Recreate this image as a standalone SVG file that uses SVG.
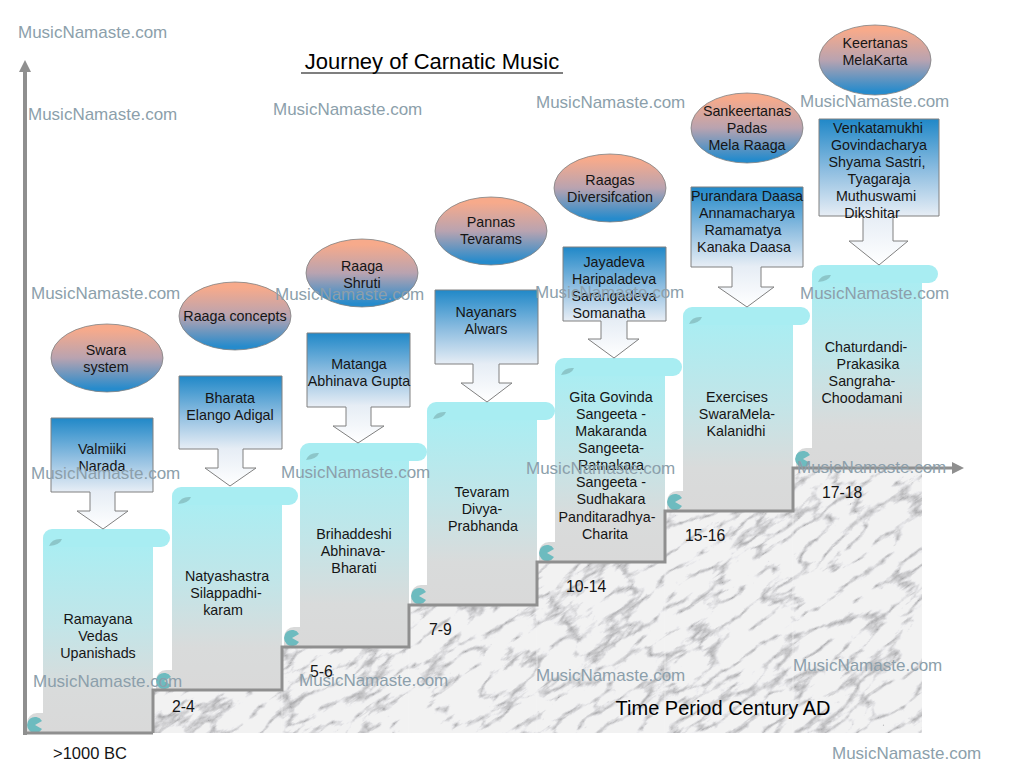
<svg xmlns="http://www.w3.org/2000/svg" width="1024" height="768" viewBox="0 0 1024 768">
<style>
text{font-family:"Liberation Sans",Arial,sans-serif;}
.t{font-size:14.3px;fill:#151515;text-anchor:middle;}
.wm{font-size:17px;fill:#8c9fab;}
.per{font-size:15.8px;fill:#151515;}
.ell{stroke:#808080;stroke-width:0.8;fill:url(#gE);}
.call{stroke:#808080;stroke-width:1;fill:url(#gC);}
.body{fill:url(#gS);}
.roll{fill:#a8edf2;}
.leaf{fill:#8cc6c9;}
.curl{fill:#6dbbbf;}
.ax{fill:none;stroke:#8f8f8f;}
</style>
<defs>
<linearGradient id="gE" x1="0" y1="0" x2="0" y2="1">
<stop offset="0.08" stop-color="#f7aa8b"/>
<stop offset="0.5" stop-color="#b9a3b0"/>
<stop offset="0.95" stop-color="#268bcc"/>
</linearGradient>
<linearGradient id="gC" x1="0" y1="0" x2="0" y2="1">
<stop offset="0" stop-color="#2088c8"/>
<stop offset="0.35" stop-color="#8dbde0"/>
<stop offset="0.66" stop-color="#e6edf5"/>
<stop offset="1" stop-color="#ffffff"/>
</linearGradient>
<linearGradient id="gS" x1="0" y1="0" x2="0" y2="1">
<stop offset="0" stop-color="#a8eef3"/>
<stop offset="0.45" stop-color="#c2e5e8"/>
<stop offset="0.78" stop-color="#d9dbdb"/>
<stop offset="1" stop-color="#d9d9d9"/>
</linearGradient>
<filter id="marble" x="0" y="0" width="100%" height="100%" color-interpolation-filters="sRGB">
<feTurbulence type="turbulence" baseFrequency="0.02 0.055" numOctaves="5" seed="11"/>
<feColorMatrix type="matrix" values="1.35 0 0 0 0.64  1.35 0 0 0 0.64  1.35 0 0 0 0.65  0 0 0 0 1"/>
<feComponentTransfer>
<feFuncR type="linear" slope="0.86" intercept="0.09"/>
<feFuncG type="linear" slope="0.86" intercept="0.09"/>
<feFuncB type="linear" slope="0.86" intercept="0.09"/>
</feComponentTransfer>
<feGaussianBlur stdDeviation="0.6"/>
</filter>
<clipPath id="stairClip">
<path d="M153 690 H282 V647 H409 V605 H537 V562 H665 V511 H793 V468 H922 V733 H153 Z"/>
</clipPath>
<marker id="arr" viewBox="0 0 12 12" refX="0" refY="6" markerWidth="12" markerHeight="12" markerUnits="userSpaceOnUse" orient="auto">
<path d="M0 0 L12 6 L0 12 Z" fill="#8f8f8f"/>
</marker>
</defs>

<rect width="1024" height="768" fill="#ffffff"/>

<g id="marble-steps" clip-path="url(#stairClip)">
<rect x="90" y="150" width="900" height="900" fill="#e0e0e0" filter="url(#marble)" transform="rotate(-35 540 600)"/>
<path d="M282 647 V733 M409 605 V733 M537 562 V733 M665 511 V733 M793 468 V733" stroke="#f4f4f4" stroke-width="1" fill="none" opacity="0.6"/>
</g>

<g id="title">
<text x="432" y="69" style="font-size:22px;fill:#000;text-anchor:middle;">Journey of Carnatic Music</text>
<line x1="301" y1="73" x2="563" y2="73" stroke="#000" stroke-width="1.2"/>
</g>

<!-- scrolls -->
<g id="scroll1">
<path class="body" d="M43 538 H153 V733 H27 V723 A10 10 0 0 1 37 713 H43 Z"/>
<rect class="roll" x="43" y="529" width="127" height="18" rx="9"/>
<path class="leaf" d="M49 546 Q52 538 62 539 Q60 545 49 546 Z"/>
<path class="curl" d="M35 725 L42 721 A8 8 0 1 0 42 729 Z"/>
<text class="t" x="98" y="624">Ramayana</text>
<text class="t" x="98" y="641">Vedas</text>
<text class="t" x="98" y="658">Upanishads</text>
</g>
<g id="scroll2">
<path class="body" d="M172 496 H282 V690 H156 V680 A10 10 0 0 1 166 670 H172 Z"/>
<rect class="roll" x="172" y="487" width="126" height="18" rx="9"/>
<path class="leaf" d="M178 504 Q181 496 191 497 Q189 503 178 504 Z"/>
<path class="curl" d="M164 681 L171 677 A8 8 0 1 0 171 685 Z"/>
<text class="t" x="227" y="581">Natyashastra</text>
<text class="t" x="226" y="598">Silappadhi-</text>
<text class="t" x="223" y="615">karam</text>
</g>
<g id="scroll3">
<path class="body" d="M300 452 H409 V647 H284 V637 A10 10 0 0 1 294 627 H300 Z"/>
<rect class="roll" x="300" y="443" width="127" height="18" rx="9"/>
<path class="leaf" d="M306 460 Q309 452 319 453 Q317 459 306 460 Z"/>
<path class="curl" d="M292 638 L299 634 A8 8 0 1 0 299 642 Z"/>
<text class="t" x="354" y="539">Brihaddeshi</text>
<text class="t" x="353" y="556">Abhinava-</text>
<text class="t" x="354" y="573">Bharati</text>
</g>
<g id="scroll4">
<path class="body" d="M427 411 H537 V605 H411 V595 A10 10 0 0 1 421 585 H427 Z"/>
<rect class="roll" x="427" y="402" width="128" height="18" rx="9"/>
<path class="leaf" d="M433 419 Q436 411 446 412 Q444 418 433 419 Z"/>
<path class="curl" d="M419 596 L426 592 A8 8 0 1 0 426 600 Z"/>
<text class="t" x="482" y="497">Tevaram</text>
<text class="t" x="482" y="514">Divya-</text>
<text class="t" x="483" y="531">Prabhanda</text>
</g>
<g id="scroll5">
<path class="body" d="M555 367 H665 V562 H539 V552 A10 10 0 0 1 549 542 H555 Z"/>
<rect class="roll" x="555" y="358" width="127" height="18" rx="9"/>
<path class="leaf" d="M561 375 Q564 367 574 368 Q572 374 561 375 Z"/>
<path class="curl" d="M547 553 L554 549 A8 8 0 1 0 554 557 Z"/>
<text class="t" x="611" y="402">Gita Govinda</text>
<text class="t" x="611" y="419">Sangeeta -</text>
<text class="t" x="611" y="436">Makaranda</text>
<text class="t" x="611" y="453">Sangeeta-</text>
<text class="t" x="611" y="470">Ratnakara</text>
<text class="t" x="611" y="487">Sangeeta -</text>
<text class="t" x="611" y="504">Sudhakara</text>
<text class="t" x="607" y="522">Panditaradhya-</text>
<text class="t" x="605" y="539">Charita</text>
</g>
<g id="scroll6">
<path class="body" d="M683 316 H793 V511 H667 V501 A10 10 0 0 1 677 491 H683 Z"/>
<rect class="roll" x="683" y="307" width="127" height="18" rx="9"/>
<path class="leaf" d="M689 324 Q692 316 702 317 Q700 323 689 324 Z"/>
<path class="curl" d="M675 502 L682 498 A8 8 0 1 0 682 506 Z"/>
<text class="t" x="737" y="402">Exercises</text>
<text class="t" x="737" y="419">SwaraMela-</text>
<text class="t" x="736" y="436">Kalanidhi</text>
</g>
<g id="scroll7">
<path class="body" d="M812 274 H922 V468 H796 V458 A10 10 0 0 1 806 448 H812 Z"/>
<rect class="roll" x="812" y="265" width="126" height="18" rx="9"/>
<path class="leaf" d="M818 282 Q821 274 831 275 Q829 281 818 282 Z"/>
<path class="curl" d="M803 459 L810 455 A8 8 0 1 0 810 463 Z"/>
<text class="t" x="866" y="352">Chaturdandi-</text>
<text class="t" x="868" y="369">Prakasika</text>
<text class="t" x="862" y="386">Sangraha-</text>
<text class="t" x="862" y="403">Choodamani</text>
</g>

<g id="connectors">
<path class="ax" stroke-width="4" d="M25 735 V72" marker-end="url(#arr)"/>
<path class="ax" stroke-width="3" d="M24 733 H153"/>
<path class="ax" stroke-width="3" d="M153 733 V690 H282 V647 H409 V605 H537 V562 H665 V511 H793 V468 H952" marker-end="url(#arr)"/>
</g>

<!-- callouts -->
<g id="callout1">
<path class="call" d="M51 418 H153 V492 H115 V511 H128 L103 529 L77 511 H90 V492 H51 Z"/>
<text class="t" x="102" y="454">Valmiiki</text>
<text class="t" x="102" y="471">Narada</text>
</g>
<g id="callout2">
<path class="call" d="M179 376 H282 V449 H243 V468 H256 L230 486 L205 468 H218 V449 H179 Z"/>
<text class="t" x="230" y="403">Bharata</text>
<text class="t" x="230" y="420">Elango Adigal</text>
</g>
<g id="callout3">
<path class="call" d="M307 333 H410 V407 H371 V426 H384 L358 443 L333 426 H346 V407 H307 Z"/>
<text class="t" x="359" y="369">Matanga</text>
<text class="t" x="359" y="386">Abhinava Gupta</text>
</g>
<g id="callout4">
<path class="call" d="M435 290 H538 V364 H499 V383 H512 L487 402 L461 383 H473 V364 H435 Z"/>
<text class="t" x="486" y="317">Nayanars</text>
<text class="t" x="486" y="334">Alwars</text>
</g>
<g id="callout5">
<path class="call" d="M563 247 H666 V321 H627 V339 H639 L614 358 L588 339 H601 V321 H563 Z"/>
<text class="t" x="614" y="267">Jayadeva</text>
<text class="t" x="614" y="284">Haripaladeva</text>
<text class="t" x="614" y="301">Sarangadeva</text>
<text class="t" x="609" y="318">Somanatha</text>
</g>
<g id="callout6">
<path class="call" d="M691 187 H803 V267 H761 V287 H774 L747 307 L718 287 H732 V267 H691 Z"/>
<text class="t" x="747" y="201">Purandara Daasa</text>
<text class="t" x="747" y="218">Annamacharya</text>
<text class="t" x="743" y="235">Ramamatya</text>
<text class="t" x="744" y="252">Kanaka Daasa</text>
</g>
<g id="callout7">
<path class="call" d="M819 119 H939 V216 H893 V241 H908 L879 265 L849 241 H863 V216 H819 Z"/>
<text class="t" x="878" y="133">Venkatamukhi</text>
<text class="t" x="879" y="150">Govindacharya</text>
<text class="t" x="877" y="167">Shyama Sastri,</text>
<text class="t" x="879" y="184">Tyagaraja</text>
<text class="t" x="876" y="201">Muthuswami</text>
<text class="t" x="872" y="218">Dikshitar</text>
</g>

<!-- ellipses -->
<g id="ellipse1">
<ellipse class="ell" cx="107" cy="358" rx="56" ry="34"/>
<text class="t" x="106" y="355">Swara</text>
<text class="t" x="106" y="372">system</text>
</g>
<g id="ellipse2">
<ellipse class="ell" cx="235" cy="316" rx="56" ry="34"/>
<text class="t" x="235" y="321">Raaga concepts</text>
</g>
<g id="ellipse3">
<ellipse class="ell" cx="362" cy="273" rx="56" ry="34"/>
<text class="t" x="362" y="271">Raaga</text>
<text class="t" x="362" y="288">Shruti</text>
</g>
<g id="ellipse4">
<ellipse class="ell" cx="491" cy="231" rx="56" ry="34"/>
<text class="t" x="491" y="227">Pannas</text>
<text class="t" x="491" y="244">Tevarams</text>
</g>
<g id="ellipse5">
<ellipse class="ell" cx="610" cy="188" rx="56" ry="34"/>
<text class="t" x="610" y="185">Raagas</text>
<text class="t" x="610" y="202">Diversifcation</text>
</g>
<g id="ellipse6">
<ellipse class="ell" cx="747" cy="128" rx="56" ry="35"/>
<text class="t" x="747" y="116">Sankeertanas</text>
<text class="t" x="747" y="133">Padas</text>
<text class="t" x="747" y="150">Mela Raaga</text>
</g>
<g id="ellipse7">
<ellipse class="ell" cx="875" cy="60" rx="56" ry="35"/>
<text class="t" x="875" y="48">Keertanas</text>
<text class="t" x="875" y="65">MelaKarta</text>
</g>

<g id="periods">
<text class="per" x="53" y="759" style="font-size:16.5px">&gt;1000 BC</text>
<text class="per" x="172" y="712">2-4</text>
<text class="per" x="310" y="677">5-6</text>
<text class="per" x="429" y="635">7-9</text>
<text class="per" x="566" y="592">10-14</text>
<text class="per" x="685" y="541">15-16</text>
<text class="per" x="822" y="498">17-18</text>
<text x="723" y="715" style="font-size:20px;fill:#000;text-anchor:middle;">Time Period Century AD</text>
</g>

<g id="watermarks">
<text class="wm" x="18" y="38">MusicNamaste.com</text>
<text class="wm" x="28" y="120">MusicNamaste.com</text>
<text class="wm" x="273" y="115">MusicNamaste.com</text>
<text class="wm" x="536" y="108">MusicNamaste.com</text>
<text class="wm" x="800" y="107">MusicNamaste.com</text>
<text class="wm" x="31" y="299">MusicNamaste.com</text>
<text class="wm" x="275" y="300">MusicNamaste.com</text>
<text class="wm" x="535" y="298">MusicNamaste.com</text>
<text class="wm" x="800" y="299">MusicNamaste.com</text>
<text class="wm" x="31" y="479">MusicNamaste.com</text>
<text class="wm" x="281" y="478">MusicNamaste.com</text>
<text class="wm" x="526" y="474">MusicNamaste.com</text>
<text class="wm" x="797" y="473">MusicNamaste.com</text>
<text class="wm" x="33" y="687">MusicNamaste.com</text>
<text class="wm" x="299" y="686">MusicNamaste.com</text>
<text class="wm" x="536" y="681">MusicNamaste.com</text>
<text class="wm" x="793" y="671">MusicNamaste.com</text>
<text class="wm" x="832" y="759">MusicNamaste.com</text>
</g>
</svg>
